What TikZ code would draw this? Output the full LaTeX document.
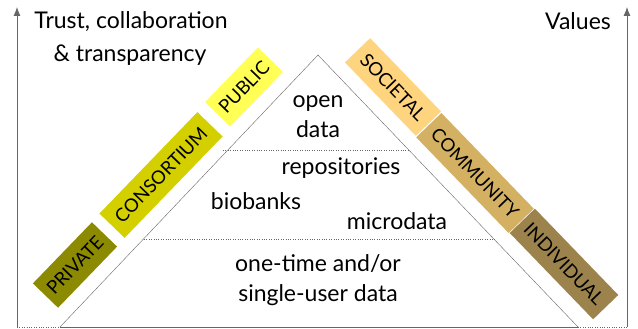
\documentclass[tikz,border=0pt]{standalone}
\usepackage{fontspec}
\setmainfont{Lato}
\usetikzlibrary{arrows.meta}

\definecolor{private}{HTML}{8C8A00}
\definecolor{consortium}{HTML}{D4D000}
\definecolor{public}{HTML}{FFFF55}
\definecolor{societal}{HTML}{FFD47E}
\definecolor{community}{HTML}{D4B062}
\definecolor{individual}{HTML}{9C834C}
\definecolor{axis}{HTML}{666666}

\begin{document}
\begin{tikzpicture}[x=1pt, y=-1pt, >={Latex[length=9pt,width=7pt]}, font=\fontsize{23}{28}\selectfont,
    band/.style={rectangle, minimum height=35pt, inner sep=0pt, font=\fontsize{18.5}{22}\selectfont},
    leftband/.style={band, rotate=46},
    rightband/.style={band, rotate=-46},
    level/.style={dotted, axis, thin},
    word/.style={anchor=base}]
    \useasboundingbox (0,0) rectangle (638,329);

    % Corners {pyramid, axes}
    \coordinate (apex)  at (318,55);
    \coordinate (bl)    at (60,327);
    \coordinate (br)    at (578,327);
    \coordinate (lbot)  at (17,327);
    \coordinate (ltop)  at (17,7);
    \coordinate (rbot)  at (627,327);
    \coordinate (rtop)  at (627,7);
    \coordinate (l1a)   at (223,150);
    \coordinate (l1b)   at (410,150);
    \coordinate (l2a)   at (144,239);
    \coordinate (l2b)   at (495,239);

    % Bands
    \node [leftband, fill=private, minimum width=85pt]     (private)    at (75,265)  {PRIVATE};
    \node [leftband, fill=consortium, minimum width=141pt] (consortium) at (161,175) {CONSORTIUM};
    \node [leftband, fill=public, minimum width=76pt]      (public)     at (244,87)  {PUBLIC};
    \node [rightband, fill=societal, minimum width=102pt]  (societal)   at (393,87)  {SOCIETAL};
    \node [rightband, fill=community, minimum width=133pt] (community)  at (475,173) {COMMUNITY};
    \node [rightband, fill=individual, minimum width=120pt](individual) at (564,264) {INDIVIDUAL};

    % Texts
    \node [word] (trust)    at (131,29)  {Trust, collaboration};
    \node [word] (transp)   at (130,62)  {\& transparency};
    \node [word] (values)   at (578,30)  {Values};
    \node [word] (open)     at (318,107) {open};
    \node [word] (data)     at (318,137) {data};
    \node [word] (repos)    at (341,174) {repositories};
    \node [word] (biobanks) at (256,209) {biobanks};
    \node [word] (micro)    at (397,229) {microdata};
    \node [word] (onetime)  at (318,271) {one-time and/or};
    \node [word] (single)   at (318,301) {single-user data};

    % Paths
    \draw [axis, thick, ->] (lbot) -- (ltop);
    \draw [axis, thick, ->] (rbot) -- (rtop);
    \draw [axis] (bl) -- (apex) -- (br);
    \draw [axis, thick] (bl) -- (br);
    \draw [level] (lbot) -- (bl);
    \draw [level] (br) -- (rbot);
    \draw [level] (l1a) -- (l1b);
    \draw [level] (l2a) -- (l2b);

\end{tikzpicture}
\end{document}
